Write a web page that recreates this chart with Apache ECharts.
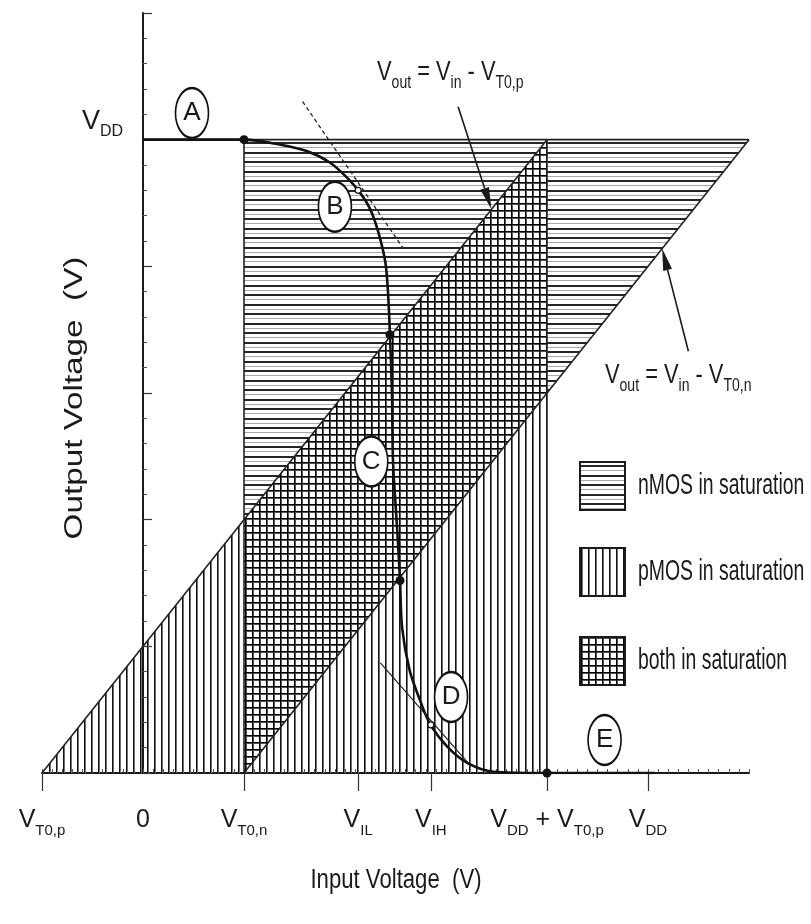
<!DOCTYPE html>
<html>
<head>
<meta charset="utf-8">
<script src="https://cdn.jsdelivr.net/npm/echarts@6/dist/echarts.min.js"></script>
<style>
  html, body { margin: 0; padding: 0; background: #fff; }
  #chart { width: 811px; height: 924px; }
</style>
</head>
<body>
<div id="chart"></div>
<script>
// CMOS inverter: supply and threshold voltages (V)
const VDD = 5;
const VT0n = 1;
const VT0p = -1;
const VIL = 2.13;
const VIH = 2.85;

// Voltage transfer characteristic
const vtcVin  = [0, 1.0, 1.36, 1.62, 1.85, 2.02, 2.15, 2.25, 2.33, 2.40, 2.426, 2.445, 2.465, 2.475, 2.515, 2.545, 2.565, 2.64, 2.74, 2.84, 3.01, 3.21, 3.47, 4.0, 5.07];
const vtcVout = [5, 5, 4.96, 4.91, 4.82, 4.70, 4.58, 4.45, 4.27, 4.03, 3.79, 3.46, 3.00, 2.47, 1.94, 1.52, 1.15, 0.81, 0.58, 0.39, 0.21, 0.08, 0.01, 0, 0];

// Region boundary points on the curve (filled) and unity-gain points (open)
const dotVin  = [VT0n, 2.445, 2.545, VDD + VT0p];
const dotVout = [VDD, 3.46, 1.52, 0];
const gainVin  = [VIL, VIH];
const gainVout = [4.60, 0.38];

// Slope -1 tangents at VIL and VIH
const tangentIL = [[1.58, 5.30], [2.57, 4.15]];
const tangentIH = [[2.35, 0.87], [3.24, 0.06]];

// Operating-region tags
const tagLetters = ['A', 'B', 'C', 'D', 'E'];
const tagVin  = [0.485, 1.90, 2.26, 3.05, 4.57];
const tagVout = [5.21, 4.47, 2.46, 0.60, 0.26];

// Axis tick labels
const xLabelValues = [VT0p, 0, VT0n, VIL, VIH, VDD + VT0p, VDD];
const xLabelTexts = ['{v|V}{s|T0,p}', '{v|0}', '{v|V}{s|T0,n}', '{v|V}{s|IL}', '{v|V}{s|IH}',
                     '{v|V}{s|DD}{v| + V}{s|T0,p}', '{v|V}{s|DD}'];
const xTickValues = [VT0p, VT0n, VIL, VIH, VDD + VT0p, VDD];
const legendNames = ['nMOS in saturation', 'pMOS in saturation', 'both in saturation'];

const X_MIN = -1, X_MAX = 6, Y_MIN = 0, Y_MAX = 6;
const W = 811, H = 924;
const GRID = { left: 42, right: 62, top: 13, bottom: 151 };

const FONT = "'Liberation Sans', Arial, sans-serif";
const INK = '#1a1a1a';

function subscriptRich(mainSize, subSize, drop) {
  return {
    v: { fontSize: mainSize, fontFamily: FONT, color: INK, fill: INK, lineHeight: subSize + drop },
    s: { fontSize: subSize, fontFamily: FONT, color: INK, fill: INK, padding: [drop, 0, 0, 0] }
  };
}

// Line-hatch fills
function makePattern(w, h, draw) {
  const c = document.createElement('canvas');
  c.width = w; c.height = h;
  draw(c.getContext('2d'), w, h);
  return { image: c, repeat: 'repeat' };
}
const hatchH = makePattern(8, 19, (g, w) => {
  g.fillStyle = '#262626'; g.fillRect(0, 0, w, 2); g.fillRect(0, 9, w, 2);
  g.fillStyle = '#a8a8a8'; g.fillRect(0, 5, w, 1); g.fillRect(0, 14, w, 1);
});
const hatchV = makePattern(7, 8, (g, w, h) => {
  g.fillStyle = '#121212'; g.fillRect(0, 0, 1, h);
  g.fillStyle = '#707070'; g.fillRect(1, 0, 1, h);
});
const hatchX = makePattern(7, 7, (g, w, h) => {
  g.fillStyle = '#555'; g.fillRect(1, 0, 1, h); g.fillRect(0, 1, w, 1);
  g.fillStyle = '#000'; g.fillRect(0, 0, 1, h); g.fillRect(0, 0, w, 1);
});

// Saturation regions: nMOS when Vout >= Vin - VT0n (Vin >= VT0n), pMOS when Vout <= Vin - VT0p (Vin <= VDD + VT0p)
const nmosOnly = [
  [[VT0n, VT0n - VT0p], [VT0n, VDD], [VDD + VT0p, VDD]],
  [[VDD + VT0p, VDD + VT0p - VT0n], [VDD + VT0p, VDD], [VDD + VT0n, VDD]]
];
const pmosOnly = [
  [[VT0p, 0], [VT0n, VT0n - VT0p], [VT0n, 0]],
  [[VT0n, 0], [VDD + VT0p, VDD + VT0p - VT0n], [VDD + VT0p, 0]]
];
const bothSat = [
  [[VT0n, 0], [VT0n, VT0n - VT0p], [VDD + VT0p, VDD], [VDD + VT0p, VDD + VT0p - VT0n]]
];

// Region outlines
const outlines = [
  [[VT0p, 0], [VDD + VT0p, VDD]],
  [[VT0n, 0], [VDD + VT0n, VDD]],
  [[0, VDD], [VDD + VT0n, VDD]],
  [[VT0n, 0], [VT0n, VDD]],
  [[VDD + VT0p, 0], [VDD + VT0p, VDD]]
];

function regionSeries(name, polys, fill) {
  return {
    type: 'custom', name, silent: true, z: 1,
    itemStyle: { color: fill },
    data: polys.map((p, i) => [i]),
    renderItem: (params, api) => ({
      type: 'polygon',
      shape: { points: polys[params.dataIndex].map(pt => api.coord(pt)) },
      style: { fill: fill, stroke: null }
    })
  };
}

const zip = (a, b) => a.map((v, i) => [v, b[i]]);

// The output axis stands at Vin = 0
const pxPerVolt = (W - GRID.left - GRID.right) / (X_MAX - X_MIN);
const yAxisOffset = -(0 - X_MIN) * pxPerVolt;

const chart = echarts.init(document.getElementById('chart'), null, { renderer: 'canvas' });

chart.setOption({
  animation: false,
  backgroundColor: '#fff',
  grid: Object.assign({ containLabel: false, outerBoundsMode: 'none' }, GRID),
  xAxis: [{
    type: 'value', min: X_MIN, max: X_MAX, position: 'bottom',
    axisLine: { onZero: false, lineStyle: { color: INK, width: 2 } },
    axisTick: { show: true, customValues: xTickValues, length: 18, lineStyle: { color: '#333', width: 1.2 } },
    axisLabel: {
      customValues: xLabelValues, margin: 30,
      formatter: (val) => {
        const i = xLabelValues.findIndex(x => Math.abs(x - val) < 1e-6);
        return i < 0 ? '' : xLabelTexts[i];
      },
      rich: subscriptRich(25, 15, 20)
    },
    splitLine: { show: false }
  }, {
    type: 'value', min: X_MIN, max: X_MAX, interval: 0.1, position: 'bottom',
    axisLine: { show: false },
    axisTick: { show: true, inside: true, length: 4, lineStyle: { color: '#555', width: 1 } },
    axisLabel: { show: false },
    splitLine: { show: false }
  }],
  yAxis: {
    type: 'value', min: Y_MIN, max: Y_MAX, interval: 1, position: 'left', offset: yAxisOffset,
    axisLine: { onZero: false, lineStyle: { color: INK, width: 2 } },
    axisTick: { show: true, inside: true, length: 9, lineStyle: { color: '#333', width: 1.2 } },
    minorTick: { show: true, splitNumber: 5, length: 4, lineStyle: { color: '#555', width: 1 } },
    axisLabel: {
      customValues: [VDD], margin: 20, verticalAlign: 'bottom',
      formatter: () => '{v|V}{s|DD}',
      rich: subscriptRich(27, 16, 20)
    },
    splitLine: { show: false }
  },
  series: [
    regionSeries(legendNames[0], nmosOnly, hatchH),
    regionSeries(legendNames[1], pmosOnly, hatchV),
    regionSeries(legendNames[2], bothSat, hatchX),
    ...outlines.map(seg => ({
      type: 'line', data: seg, symbol: 'none', silent: true, z: 2,
      lineStyle: { color: '#222', width: 1.6 }
    })),
    {
      type: 'line', data: tangentIL, symbol: 'none', silent: true, z: 3,
      lineStyle: { color: '#222', width: 1.3, type: [4, 3] }
    },
    {
      type: 'line', data: tangentIH, symbol: 'none', silent: true, z: 3,
      lineStyle: { color: '#222', width: 1.2 }
    },
    {
      type: 'line', data: zip(vtcVin, vtcVout), symbol: 'none', smooth: 0.3, silent: true, z: 4,
      lineStyle: { color: '#111', width: 2.6 }
    },
    {
      type: 'scatter', data: zip(dotVin, dotVout), symbol: 'circle', symbolSize: 9, silent: true, z: 5,
      itemStyle: { color: '#111', opacity: 1 }
    },
    {
      type: 'scatter', data: zip(gainVin, gainVout), symbol: 'circle', symbolSize: 6, silent: true, z: 5,
      itemStyle: { color: '#fff', borderColor: '#111', borderWidth: 1.2, opacity: 1 }
    },
    {
      type: 'scatter', silent: true, z: 6,
      data: tagLetters.map((t, i) => ({ name: t, value: [tagVin[i], tagVout[i]] })),
      symbol: 'path://M1,0A1,1,0,1,1,-1,0A1,1,0,1,1,1,0Z', symbolSize: [33, 50],
      itemStyle: { color: '#fff', borderColor: '#111', borderWidth: 2, opacity: 1 },
      label: { show: true, position: 'inside', formatter: '{b}', fontSize: 26, fontFamily: FONT, color: INK }
    }
  ]
});

// Annotations placed from data coordinates
function toPx(p) { return chart.convertToPixel({ xAxisIndex: 0, yAxisIndex: 0 }, p); }
function arrow(from, to) {
  const a = toPx(from), b = toPx(to);
  const dx = b[0] - a[0], dy = b[1] - a[1], len = Math.hypot(dx, dy);
  const ux = dx / len, uy = dy / len, hl = 22, hw = 4.5;
  const base = [b[0] - ux * hl, b[1] - uy * hl];
  return [
    { type: 'line', shape: { x1: a[0], y1: a[1], x2: base[0], y2: base[1] }, style: { stroke: INK, lineWidth: 1.6 }, z: 10 },
    { type: 'polygon', shape: { points: [b, [base[0] - uy * hw, base[1] + ux * hw], [base[0] + uy * hw, base[1] - ux * hw]] }, style: { fill: INK }, z: 10 }
  ];
}
function equation(anchor, text) {
  const p = toPx(anchor);
  return {
    type: 'text', x: p[0], y: p[1], scaleX: 0.78, z: 10,
    style: { text, rich: subscriptRich(28, 18, 22), fill: INK, align: 'left', verticalAlign: 'top' }
  };
}

// Hatch key
const keyFills = [hatchH, hatchV, hatchX];
const keyTops = [462, 548, 637];
const keyItems = [];
legendNames.forEach((name, i) => {
  keyItems.push({
    type: 'rect', z: 10,
    shape: { x: 580, y: keyTops[i], width: 45, height: 48 },
    style: { fill: keyFills[i], stroke: INK, lineWidth: 2 }
  });
  keyItems.push({
    type: 'text', x: 638, y: keyTops[i] + 24, scaleX: 0.67, z: 10,
    style: { text: name, fontSize: 29, fontFamily: FONT, fill: INK, align: 'left', verticalAlign: 'middle' }
  });
});

chart.setOption({
  graphic: [
    equation([2.317, 5.69], '{v|V}{s|out}{v| = V}{s|in}{v| - V}{s|T0,p}'),
    equation([4.574, 3.30], '{v|V}{s|out}{v| = V}{s|in}{v| - V}{s|T0,n}'),
    ...arrow([3.12, 5.26], [3.45, 4.45]),
    ...arrow([5.40, 3.33], [5.14, 4.14]),
    ...keyItems,
    {
      type: 'text', x: 75, y: 398, rotation: Math.PI / 2, scaleX: 1.33, z: 10,
      style: { text: 'Output Voltage  (V)', fontSize: 25, fontFamily: FONT, fill: INK, align: 'center', verticalAlign: 'middle' }
    },
    {
      type: 'text', x: 396, y: 881, scaleX: 0.82, z: 10,
      style: { text: 'Input Voltage  (V)', fontSize: 27, fontFamily: FONT, fill: INK, align: 'center', verticalAlign: 'middle' }
    }
  ]
});
</script>
</body>
</html>
